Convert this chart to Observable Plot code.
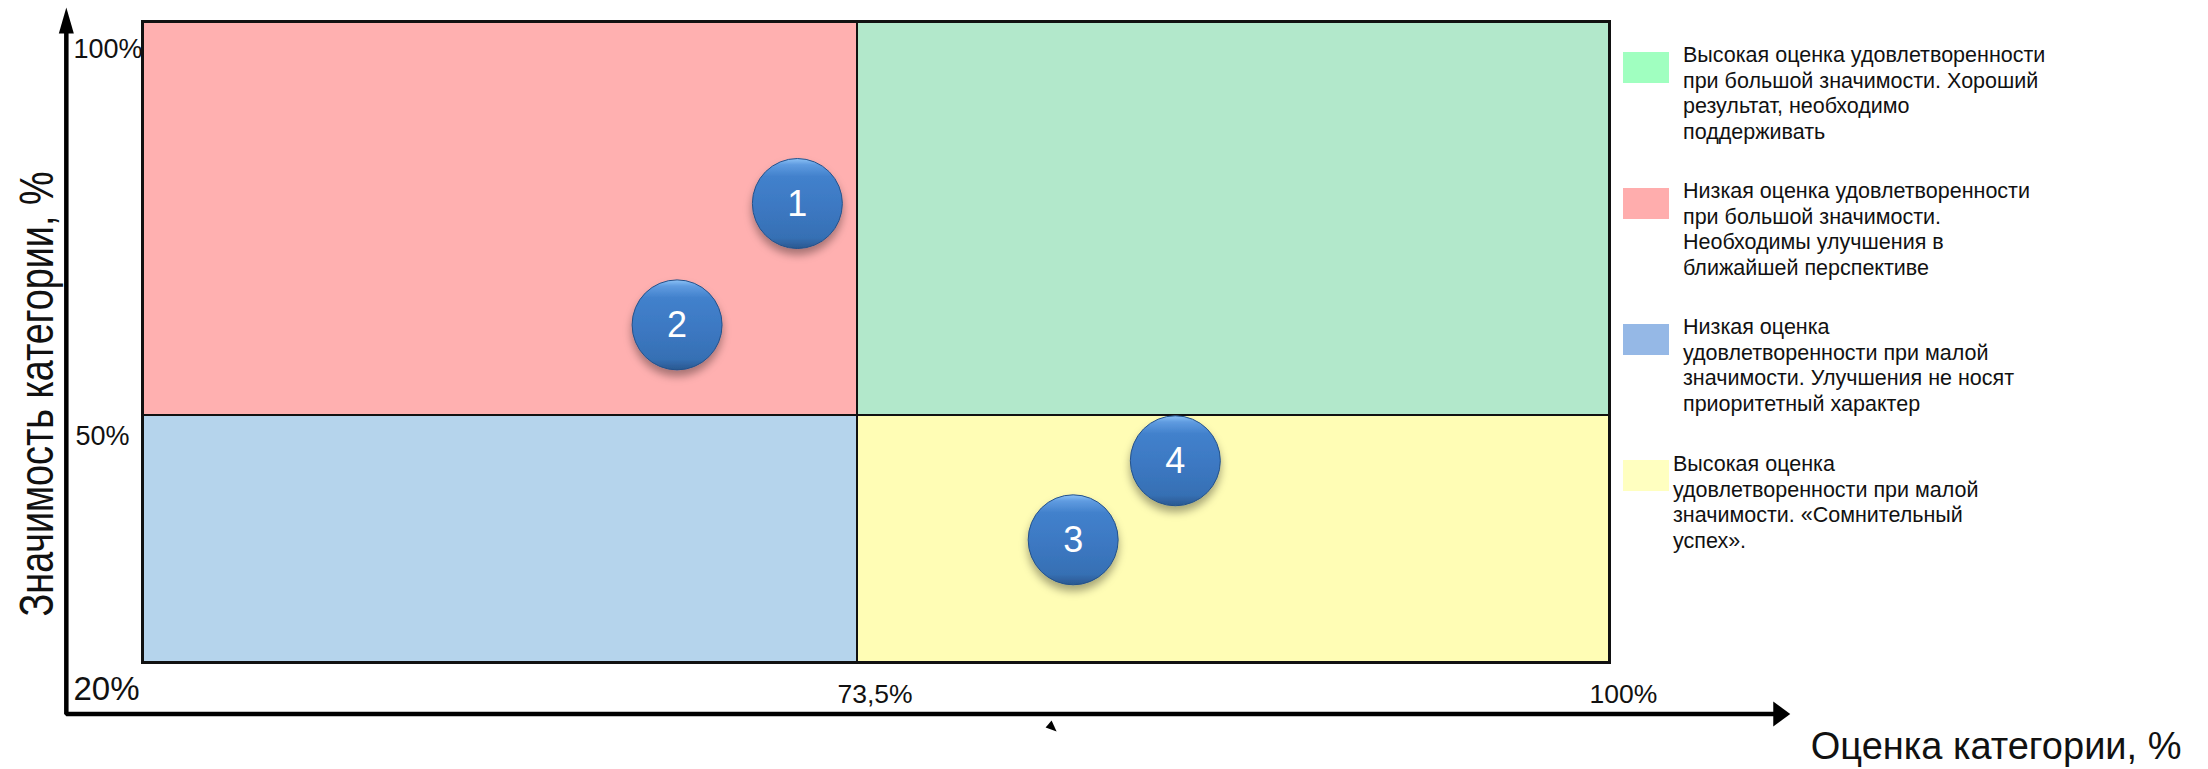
<!DOCTYPE html>
<html>
<head>
<meta charset="utf-8">
<script src="https://cdn.jsdelivr.net/npm/d3@7"></script>
<script src="https://cdn.jsdelivr.net/npm/@observablehq/plot@0.6"></script>
<style>
  body { margin: 0; background: #ffffff; }
  #wrap { position: relative; width: 2208px; height: 769px; overflow: hidden; }
  #wrap svg { position: absolute; left: 0; top: 0; }
  .lg-sw { position: absolute; width: 46px; height: 31px; }
  .lg-tx { position: absolute; font-family: "Liberation Sans", Arial, sans-serif; font-size: 21.5px;
           line-height: 25.7px; color: #111; white-space: pre; }
</style>
</head>
<body>
<div id="wrap"></div>
<script>
// ---------- data ----------
const xBreaks = [20, 73.5, 100];          // Оценка категории, %
const yBreaks = [20, 50, 100];            // Значимость категории, %
const xTickValues = [73.5, 100];
const xTickLabels = ["73,5%", "100%"];
const yTickValues = [100, 50];
const yTickLabels = ["100%", "50%"];
const cornerLabel = "20%";

const quadrantNames = ["Низкая/большая", "Высокая/большая", "Низкая/малая", "Высокая/малая"];
const quadrantX1 = [20, 73.5, 20, 73.5];
const quadrantX2 = [73.5, 100, 73.5, 100];
const quadrantY1 = [50, 50, 20, 20];
const quadrantY2 = [100, 100, 50, 50];
const quadrantColors = ["#ffb0b0", "#b2e8cb", "#b5d4ec", "#fffdb5"];

const bubbleIds = ["1", "2", "3", "4"];
const bubbleX = [69.0, 60.0, 81.1, 84.7];
const bubbleY = [76.9, 61.5, 34.9, 44.5];

const legendTexts = [
  "Высокая оценка удовлетворенности\nпри большой значимости. Хороший\nрезультат, необходимо\nподдерживать",
  "Низкая оценка удовлетворенности\nпри большой значимости.\nНеобходимы улучшения в\nближайшей перспективе",
  "Низкая оценка\nудовлетворенности при малой\nзначимости. Улучшения не носят\nприоритетный характер",
  "Высокая оценка\nудовлетворенности при малой\nзначимости. «Сомнительный\nуспех»."
];
const legendColors = ["#a0ffc0", "#ffadad", "#95b8e6", "#ffffc0"];

const xTitle = "Оценка категории, %";
const yTitle = "Значимость категории, %";

// axis arrow extents (in data units, beyond the quadrant frame)
const axisOriginX = 14.3, axisOriginY = 13.75;
const xAxisLineEnd = 105.85, xAxisTip = 106.37;
const yAxisLineEnd = 99.1, yAxisTip = 101.78;
const strayMark = {x: 80.34, y: 12.35};

// ---------- tables ----------
const quadrants = quadrantNames.map((n, i) => ({name: n, x1: quadrantX1[i], x2: quadrantX2[i], y1: quadrantY1[i], y2: quadrantY2[i], color: quadrantColors[i]}));
const bubbles = bubbleIds.map((id, i) => ({id, x: bubbleX[i], y: bubbleY[i]}));
const axisPath = [
  {x: xAxisLineEnd, y: axisOriginY},
  {x: axisOriginX, y: axisOriginY},
  {x: axisOriginX, y: yAxisLineEnd}
];

// custom arrowhead symbols (tip at origin)
const headRight = {draw(c) { c.moveTo(0, 0); c.lineTo(-17, -12.5); c.lineTo(-17, 12.5); c.closePath(); }};
const headUp = {draw(c) { c.moveTo(0, 0); c.lineTo(7.5, 26); c.lineTo(-7.5, 26); c.closePath(); }};
const strayTri = {draw(c) { c.moveTo(0, -5); c.lineTo(5, 6); c.lineTo(-6, 2); c.closePath(); }};

const defs = () => {
  const d = d3.create("svg:defs");
  d.html(`
    <linearGradient id="bubbleGrad" x1="0" y1="0" x2="0" y2="1">
      <stop offset="0" stop-color="#8cc2f6"/>
      <stop offset="0.07" stop-color="#5f9be0"/>
      <stop offset="0.2" stop-color="#4281cc"/>
      <stop offset="0.55" stop-color="#3c78c2"/>
      <stop offset="0.88" stop-color="#3670b4"/>
      <stop offset="1" stop-color="#2a5890"/>
    </linearGradient>
    <filter id="bubbleShadow" x="-30%" y="-30%" width="160%" height="170%">
      <feDropShadow dx="0" dy="6" stdDeviation="4" flood-color="#000" flood-opacity="0.35"/>
    </filter>`);
  return d.node();
};

const font = "Liberation Sans, Arial, sans-serif";

const plot = Plot.plot({
  width: 2208,
  height: 769,
  marginLeft: 142,
  marginRight: 599,
  marginTop: 21,
  marginBottom: 107,
  x: {type: "linear", domain: xBreaks, range: [142, 857, 1609], axis: null},
  y: {type: "linear", domain: yBreaks, range: [662, 415, 21], axis: null},
  style: {fontFamily: font, background: "white", overflow: "visible", color: "#111"},
  marks: [
    defs,
    Plot.rect(quadrants, {x1: "x1", x2: "x2", y1: "y1", y2: "y2", fill: "color", stroke: "#111", strokeWidth: 2}),
    Plot.frame({stroke: "#111", strokeWidth: 3}),
    // axes with arrows
    Plot.line(axisPath, {x: "x", y: "y", stroke: "#000", strokeWidth: 4.5, strokeLinejoin: "miter"}),
    Plot.dot([{x: xAxisTip, y: axisOriginY}], {x: "x", y: "y", symbol: headRight, fill: "#000", stroke: "none"}),
    Plot.dot([{x: axisOriginX, y: yAxisTip}], {x: "x", y: "y", symbol: headUp, fill: "#000", stroke: "none"}),
    Plot.dot([strayMark], {x: "x", y: "y", symbol: strayTri, fill: "#000", stroke: "none"}),
    // tick labels
    Plot.text(xTickValues, {x: d => d, text: (d, i) => xTickLabels[i], frameAnchor: "bottom", textAnchor: "start", lineAnchor: "bottom", dx: -20, dy: 40, fontSize: 26.5, fill: "#111"}),
    Plot.text([yTickValues[0]], {y: d => d, text: () => yTickLabels[0], frameAnchor: "left", textAnchor: "start", lineAnchor: "bottom", dx: -69, dy: 36, fontSize: 27, fill: "#111"}),
    Plot.text([yTickValues[1]], {y: d => d, text: () => yTickLabels[1], frameAnchor: "left", textAnchor: "start", lineAnchor: "bottom", dx: -67, dy: 29, fontSize: 27, fill: "#111"}),
    Plot.text([xBreaks[0]], {x: d => d, text: () => cornerLabel, frameAnchor: "bottom", textAnchor: "start", lineAnchor: "bottom", dx: -69, dy: 37, fontSize: 33, fill: "#111"}),
    // axis titles
    Plot.text([xTitle], {text: d => d, frameAnchor: "bottom-right", textAnchor: "end", lineAnchor: "bottom", dx: 572, dy: 96, fontSize: 38, fill: "#111"}),
    Plot.text([yTitle], {text: d => d, frameAnchor: "left", rotate: -90, textAnchor: "middle", lineAnchor: "bottom", dx: -90, dy: 52, fontSize: 48, fill: "#111"}),
    // bubbles
    Plot.dot(bubbles, {x: "x", y: "y", r: 45, fill: "url(#bubbleGrad)", stroke: "#24518a", strokeWidth: 1}),
    Plot.text(bubbles, {x: "x", y: "y", text: "id", fill: "white", fontSize: 36, dy: 1})
  ]
});

const wrap = document.getElementById("wrap");
wrap.appendChild(plot);

// condense the rotated y title to its measured length
d3.select(plot).selectAll("text")
  .filter(function() { return this.textContent === yTitle; })
  .attr("textLength", 445).attr("lengthAdjust", "spacingAndGlyphs");

// drop shadow under the bubbles
d3.select(plot).selectAll("circle")
  .filter(function() { return (this.getAttribute("fill") || "").includes("bubbleGrad"); })
  .attr("filter", "url(#bubbleShadow)");
d3.select(plot).selectAll("g")
  .filter(function() { return (this.getAttribute("fill") || "").includes("bubbleGrad"); })
  .attr("filter", null)
  .selectAll("circle").attr("filter", "url(#bubbleShadow)");

// legend (HTML, to the right of the quadrants)
const legendTops = [52, 188, 324, 460];
const legendTextTops = [43, 179, 315, 452];
const legendTextLeft = [1683, 1683, 1683, 1673];
legendTexts.forEach((t, i) => {
  const sw = document.createElement("div");
  sw.className = "lg-sw";
  sw.style.left = "1623px";
  sw.style.top = legendTops[i] + "px";
  sw.style.background = legendColors[i];
  wrap.appendChild(sw);
  const tx = document.createElement("div");
  tx.className = "lg-tx";
  tx.style.left = legendTextLeft[i] + "px";
  tx.style.top = legendTextTops[i] + "px";
  tx.textContent = t;
  wrap.appendChild(tx);
});
</script>
</body>
</html>
